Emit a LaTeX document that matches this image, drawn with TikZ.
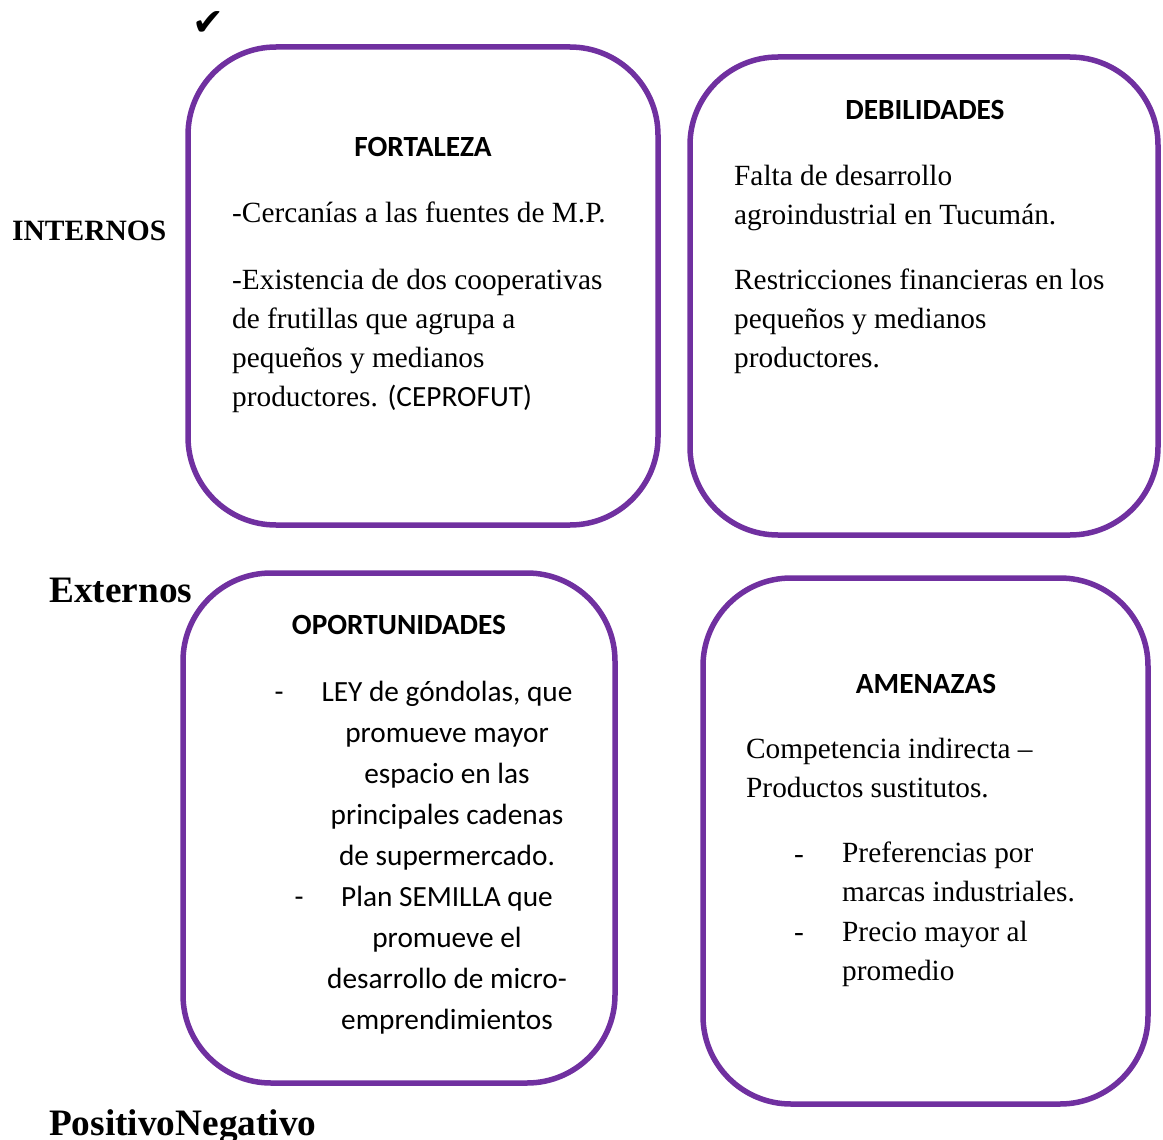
\documentclass[tikz,border=0pt]{standalone}
\usepackage{fontspec}
\setmainfont{Liberation Serif}
\setsansfont{Carlito}
\newfontfamily\symfont{DejaVu Sans}
\definecolor{swotpurple}{HTML}{7030A0}
\begin{document}
\begin{tikzpicture}[x=1pt,y=-1pt,
  box/.style={draw=swotpurple, line width=5.5pt, rounded corners=88pt, inner sep=0pt},
  body/.style={font=\fontsize{29.3}{38.7}\selectfont, inner sep=0pt, align=left, anchor=base west},
  head/.style={font=\sffamily\bfseries\fontsize{29.3}{34}\selectfont, inner sep=0pt, anchor=base},
  side/.style={font=\bfseries\fontsize{29.5}{34}\selectfont, inner sep=0pt, anchor=base west},
  big/.style={font=\bfseries\fontsize{37.3}{42}\selectfont, inner sep=0pt, anchor=base west},
  opp/.style={font=\sffamily\fontsize{29.3}{41}\selectfont, inner sep=0pt, align=center, anchor=base},
  dashmark/.style={inner sep=0pt, anchor=base}
]
\useasboundingbox (0,0) rectangle (1163,1140);

% boxes
\node[box, minimum width=470pt, minimum height=478pt] (fort) at (423,286) {};
\node[box, minimum width=468pt, minimum height=478pt] (deb) at (924,296) {};
\node[box, minimum width=432pt, minimum height=510pt] (opo) at (399,828) {};
\node[box, minimum width=445pt, minimum height=526pt] (ame) at (925.5,841) {};

% side labels
\node[inner sep=0pt, font=\symfont\fontsize{38}{40}\selectfont] (check) at (208,24) {✔};
\node[side] (internos) at (12,240) {INTERNOS};
\node[big] (externos) at (49,602) {Externos};
\node[big] (posneg) at (49,1135) {PositivoNegativo};

% FORTALEZA (base anchor of a multi-line node = its last line)
\node[head] (fhead) at (423,156) {FORTALEZA};
\node[body] (ftext) at (232,222) {-Cercanías a las fuentes de M.P.};
\node[body] (ftext2) at (232,406) {-Existencia de dos cooperativas\\de frutillas que agrupa a\\pequeños y medianos\\productores. {\sffamily(CEPROFUT)}};

% DEBILIDADES
\node[head] (dhead) at (925,120) {DEBILIDADES};
\node[body] (dtext) at (734,224) {Falta de desarrollo\\agroindustrial en Tucumán.};
\node[body] (dtext2) at (734,367) {Restricciones financieras en los\\pequeños y medianos\\productores.};

% OPORTUNIDADES
\node[head] (ohead) at (399,634) {OPORTUNIDADES};
\node[dashmark, font=\sffamily\fontsize{29.3}{41}\selectfont] (od1) at (279,701) {-};
\node[opp] (otext1) at (447,865) {LEY de góndolas, que\\promueve mayor\\espacio en las\\principales cadenas\\de supermercado.};
\node[dashmark, font=\sffamily\fontsize{29.3}{41}\selectfont] (od2) at (299,906) {-};
\node[opp] (otext2) at (447,1029) {Plan SEMILLA que\\promueve el\\desarrollo de micro-\\emprendimientos};

% AMENAZAS
\node[head] (ahead) at (926,693) {AMENAZAS};
\node[body] (atext) at (746,797) {Competencia indirecta –\\Productos sustitutos.};
\node[dashmark, font=\fontsize{29.3}{39}\selectfont] (ad1) at (799,863) {-};
\node[body] (atext1) at (842,901) {Preferencias por\\marcas industriales.};
\node[dashmark, font=\fontsize{29.3}{39}\selectfont] (ad2) at (799,941) {-};
\node[body] (atext2) at (842,980) {Precio mayor al\\promedio};
\end{tikzpicture}
\end{document}
